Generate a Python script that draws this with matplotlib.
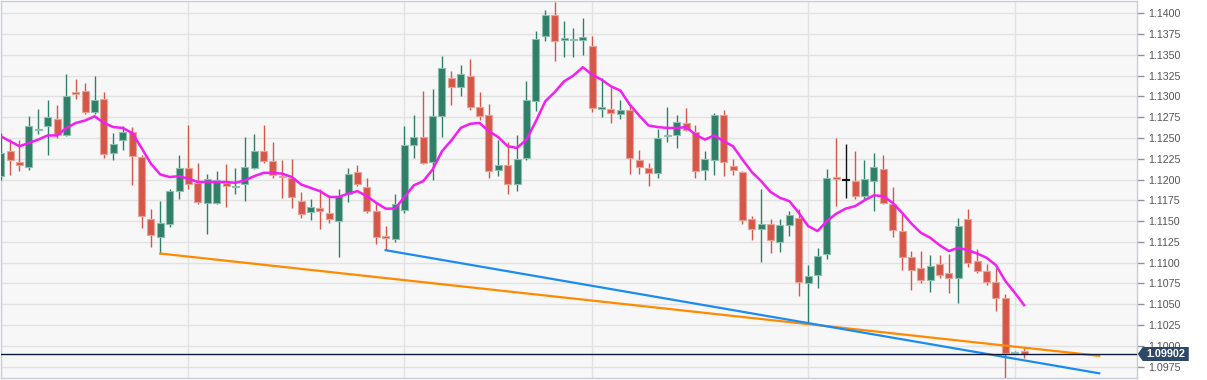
import matplotlib
matplotlib.use('Agg')
from matplotlib import pyplot as plt
from matplotlib.patches import Polygon
from matplotlib.transforms import IdentityTransform

# daily candles, oldest first
opens = [1.1204, 1.1234, 1.1221, 1.1215, 1.1259, 1.1264, 1.1273, 1.1254, 1.1305, 1.1306,
         1.1281, 1.1297, 1.1232, 1.1247, 1.1257, 1.1227, 1.1153, 1.1131, 1.1146, 1.1186,
         1.1214, 1.1196, 1.1172, 1.1172, 1.1196, 1.1191, 1.1194, 1.1214, 1.1234, 1.1222,
         1.1204, 1.1202, 1.1174, 1.1161, 1.1166, 1.1160, 1.1150, 1.1182, 1.1209, 1.1191,
         1.1162, 1.1132, 1.1128, 1.1163, 1.1241, 1.1251, 1.1221, 1.1276, 1.1322, 1.1311,
         1.1325, 1.1287, 1.1277, 1.1212, 1.1218, 1.1195, 1.1226, 1.1294, 1.1372, 1.1398,
         1.1368, 1.1368, 1.1368, 1.1360, 1.1285, 1.1285, 1.1279, 1.1284, 1.1224, 1.1214,
         1.1208, 1.1252, 1.1254, 1.1268, 1.1257, 1.1211, 1.1224, 1.1277, 1.1216, 1.1209,
         1.1152, 1.1140, 1.1146, 1.1125, 1.1145, 1.1154, 1.1075, 1.1085, 1.1111, 1.1203,
         1.1199, 1.1198, 1.1180, 1.1198, 1.1213, 1.1171, 1.1138, 1.1107, 1.1094, 1.1079,
         1.1099, 1.1087, 1.1081, 1.1152, 1.1102, 1.1090, 1.1077, 1.1057, 1.0992, 1.0994]
highs = [1.1256, 1.1249, 1.1248, 1.1276, 1.1285, 1.1296, 1.1289, 1.1327, 1.1321, 1.1316,
         1.1325, 1.1305, 1.1256, 1.1264, 1.1263, 1.1230, 1.1164, 1.1174, 1.1188, 1.1230,
         1.1265, 1.1220, 1.1207, 1.1210, 1.1219, 1.1214, 1.1251, 1.1255, 1.1265, 1.1245,
         1.1224, 1.1225, 1.1185, 1.1176, 1.1188, 1.1181, 1.1188, 1.1214, 1.1217, 1.1202,
         1.1172, 1.1144, 1.1182, 1.1264, 1.1278, 1.1307, 1.1309, 1.1348, 1.1331, 1.1338,
         1.1345, 1.1305, 1.1291, 1.1248, 1.1245, 1.1254, 1.1319, 1.1378, 1.1404, 1.1414,
         1.1391, 1.1382, 1.1394, 1.1373, 1.1322, 1.1311, 1.1296, 1.1290, 1.1236, 1.1220,
         1.1261, 1.1287, 1.1277, 1.1286, 1.1265, 1.1234, 1.1280, 1.1284, 1.1225, 1.1210,
         1.1156, 1.1188, 1.1153, 1.1153, 1.1162, 1.1164, 1.1097, 1.1118, 1.1213, 1.1250,
         1.1243, 1.1234, 1.1223, 1.1232, 1.1229, 1.1191, 1.1158, 1.1114, 1.1114, 1.1109,
         1.1109, 1.1111, 1.1154, 1.1164, 1.1117, 1.1099, 1.1094, 1.1062, 1.0994, 1.0997]
lows = [1.1200, 1.1206, 1.1210, 1.1212, 1.1255, 1.1230, 1.1250, 1.1252, 1.1297, 1.1279,
        1.1279, 1.1226, 1.1224, 1.1236, 1.1193, 1.1142, 1.1119, 1.1111, 1.1143, 1.1176,
        1.1188, 1.1170, 1.1134, 1.1171, 1.1167, 1.1182, 1.1174, 1.1213, 1.1220, 1.1202,
        1.1178, 1.1166, 1.1154, 1.1151, 1.1141, 1.1148, 1.1107, 1.1173, 1.1192, 1.1160,
        1.1123, 1.1115, 1.1125, 1.1160, 1.1226, 1.1219, 1.1200, 1.1251, 1.1290, 1.1301,
        1.1284, 1.1272, 1.1202, 1.1204, 1.1182, 1.1186, 1.1224, 1.1282, 1.1367, 1.1343,
        1.1347, 1.1347, 1.1350, 1.1281, 1.1275, 1.1268, 1.1273, 1.1207, 1.1207, 1.1192,
        1.1202, 1.1245, 1.1238, 1.1258, 1.1202, 1.1199, 1.1206, 1.1204, 1.1206, 1.1146,
        1.1127, 1.1101, 1.1112, 1.1113, 1.1132, 1.1060, 1.1028, 1.1069, 1.1104, 1.1168,
        1.1178, 1.1176, 1.1177, 1.1162, 1.1171, 1.1131, 1.1091, 1.1067, 1.1076, 1.1065,
        1.1081, 1.1063, 1.1051, 1.1095, 1.1087, 1.1073, 1.1042, 1.0958, 1.0991, 1.0985]
closes = [1.1232, 1.1223, 1.1218, 1.1264, 1.1261, 1.1275, 1.1254, 1.1300, 1.1303, 1.1281,
          1.1295, 1.1231, 1.1243, 1.1257, 1.1228, 1.1156, 1.1133, 1.1148, 1.1186, 1.1214,
          1.1195, 1.1173, 1.1201, 1.1199, 1.1192, 1.1192, 1.1215, 1.1234, 1.1222, 1.1205,
          1.1203, 1.1179, 1.1159, 1.1167, 1.1162, 1.1152, 1.1180, 1.1207, 1.1194, 1.1162,
          1.1131, 1.1130, 1.1170, 1.1241, 1.1251, 1.1220, 1.1276, 1.1334, 1.1311, 1.1327,
          1.1287, 1.1276, 1.1210, 1.1217, 1.1194, 1.1225, 1.1295, 1.1369, 1.1398, 1.1367,
          1.1370, 1.1369, 1.1371, 1.1286, 1.1287, 1.1280, 1.1283, 1.1226, 1.1215, 1.1208,
          1.1250, 1.1254, 1.1269, 1.1259, 1.1210, 1.1225, 1.1278, 1.1221, 1.1211, 1.1151,
          1.1141, 1.1147, 1.1127, 1.1145, 1.1157, 1.1077, 1.1084, 1.1108, 1.1202, 1.1201,
          1.1199, 1.1180, 1.1201, 1.1215, 1.1172, 1.1139, 1.1107, 1.1091, 1.1079, 1.1096,
          1.1085, 1.1081, 1.1144, 1.1100, 1.1090, 1.1077, 1.1058, 1.0992, 1.0993, 1.09902]

# moving average line (magenta)
ma = [1.1252, 1.1246, 1.1240, 1.1244, 1.1248, 1.1253, 1.1253, 1.1262, 1.1268, 1.1271,
      1.1276, 1.1268, 1.1263, 1.1262, 1.1256, 1.1238, 1.1219, 1.1206, 1.1203, 1.1204,
      1.1201, 1.1197, 1.1197, 1.1197, 1.1197, 1.1196, 1.1199, 1.1204, 1.1208, 1.1208,
      1.1207, 1.1203, 1.1194, 1.1190, 1.1186, 1.1179, 1.1179, 1.1183, 1.1186, 1.1180,
      1.1172, 1.1165, 1.1165, 1.1179, 1.1193, 1.1198, 1.1212, 1.1234, 1.1247, 1.1262,
      1.1267, 1.1268, 1.1258, 1.1251, 1.1240, 1.1238, 1.1248, 1.1270, 1.1294, 1.1305,
      1.1318, 1.1325, 1.1335, 1.1326, 1.1320, 1.1312, 1.1307, 1.1290, 1.1277, 1.1265,
      1.1263, 1.1262, 1.1262, 1.1263, 1.1254, 1.1248, 1.1253, 1.1246, 1.1240, 1.1224,
      1.1209, 1.1198, 1.1185, 1.1178, 1.1174, 1.1160, 1.1144, 1.1138, 1.1150, 1.1159,
      1.1165, 1.1168, 1.1175, 1.1181, 1.1180, 1.1172, 1.1160, 1.1147, 1.1136, 1.1130,
      1.1121, 1.1114, 1.1118, 1.1115, 1.1111, 1.1106, 1.1097, 1.1078, 1.1064, 1.1049]

# trend lines: (start index, end index), (start price, end price)
orange_x = [17, 117]
orange_y = [1.1111, 1.0988]
blue_x = [41, 117]
blue_y = [1.1115, 1.0967]

month_starts = [20, 43, 63, 86, 108]
price_ticks = [1.0975, 1.1000, 1.1025, 1.1050, 1.1075, 1.1100, 1.1125, 1.1150, 1.1175,
               1.1200, 1.1225, 1.1250, 1.1275, 1.1300, 1.1325, 1.1350, 1.1375, 1.1400]
last_price = closes[-1]

plt.rcParams['font.family'] = ['Liberation Sans', 'DejaVu Sans']

fig = plt.figure(figsize=(12.07, 3.8), dpi=100, facecolor='white')
ax = fig.add_axes([0.0005, 0.0045, 0.9413, 0.9937])
ax.set_facecolor('#f7f7f7')

GREEN, GREEN_EDGE = '#2f7f69', '#8cbfae'
RED, RED_EDGE = '#d4584a', '#e9a396'

xs = list(range(len(opens)))
body_col, edge_col, wick_col, bottoms, heights = [], [], [], [], []
for o, c in zip(opens, closes):
    if c > o:
        body_col.append(GREEN); edge_col.append(GREEN_EDGE); wick_col.append(GREEN)
    elif c < o:
        body_col.append(RED); edge_col.append(RED_EDGE); wick_col.append(RED)
    else:
        body_col.append('#111111'); edge_col.append('#111111'); wick_col.append('#111111')
    bottoms.append(min(o, c))
    heights.append(max(abs(c - o), 0.00012))

ax.vlines(xs, lows, highs, colors=wick_col, linewidth=1.0, zorder=3)
ax.bar(xs, heights, bottom=bottoms, width=0.75, color=body_col,
       edgecolor=edge_col, linewidth=0.8, zorder=4)

ax.plot(xs, ma, color='#f21ef2', linewidth=1.8, zorder=5)
ax.plot(orange_x, orange_y, color='#ff8a00', linewidth=1.6, zorder=6)
ax.plot(blue_x, blue_y, color='#1a8cf0', linewidth=1.6, zorder=6)
ax.axhline(last_price, color='#0d1a3a', linewidth=1.0, zorder=7)

ax.set_xlim(-0.01, 121.0)
ax.set_ylim(1.0961, 1.1415)

ax.set_xticks(month_starts)
ax.tick_params(axis='x', length=0, labelbottom=False)
ax.yaxis.tick_right()
ax.set_yticks(price_ticks)
ax.set_yticklabels(['%.4f' % t for t in price_ticks])
ax.tick_params(axis='y', direction='out', length=5, width=1, color='#8a8f99',
               labelsize=7.7, labelcolor='#555555', pad=3)
ax.grid(True, color='#e2e2e2', linewidth=1.0, zorder=0)
ax.set_axisbelow(True)
for s in ax.spines.values():
    s.set_color('#c6cdd9')
    s.set_linewidth(1.0)

# current price marker on the price axis
fig.canvas.draw()
yd = ax.transData.transform((0, last_price))[1]
xr = ax.transAxes.transform((1, 0))[0]
box = Polygon([(xr + 1, yd), (xr + 6, yd + 7), (xr + 52, yd + 7), (xr + 52, yd - 7), (xr + 6, yd - 7)],
              closed=True, transform=IdentityTransform(), facecolor='#2e4868',
              edgecolor='none', zorder=10)
fig.add_artist(box)
fig.text(xr + 29, yd, '%.5f' % last_price, transform=IdentityTransform(), color='white',
         fontsize=7.8, fontweight='bold', ha='center', va='center', zorder=11)

plt.savefig('out.png', dpi=100)
